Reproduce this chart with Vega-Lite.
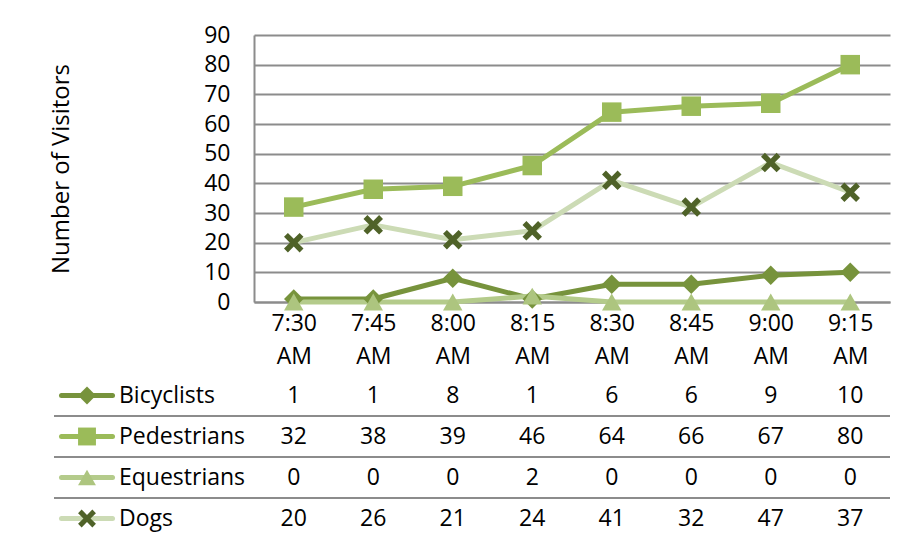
{
  "$schema": "https://vega.github.io/schema/vega-lite/v6.json",
  "background": "#ffffff",
  "padding": {"left": 49, "top": 24, "right": 5, "bottom": 5},
  "datasets": {
    "visits": [
      {"time": "7:30 AM", "series": "Bicyclists", "value": 1},
      {"time": "7:45 AM", "series": "Bicyclists", "value": 1},
      {"time": "8:00 AM", "series": "Bicyclists", "value": 8},
      {"time": "8:15 AM", "series": "Bicyclists", "value": 1},
      {"time": "8:30 AM", "series": "Bicyclists", "value": 6},
      {"time": "8:45 AM", "series": "Bicyclists", "value": 6},
      {"time": "9:00 AM", "series": "Bicyclists", "value": 9},
      {"time": "9:15 AM", "series": "Bicyclists", "value": 10},
      {"time": "7:30 AM", "series": "Pedestrians", "value": 32},
      {"time": "7:45 AM", "series": "Pedestrians", "value": 38},
      {"time": "8:00 AM", "series": "Pedestrians", "value": 39},
      {"time": "8:15 AM", "series": "Pedestrians", "value": 46},
      {"time": "8:30 AM", "series": "Pedestrians", "value": 64},
      {"time": "8:45 AM", "series": "Pedestrians", "value": 66},
      {"time": "9:00 AM", "series": "Pedestrians", "value": 67},
      {"time": "9:15 AM", "series": "Pedestrians", "value": 80},
      {"time": "7:30 AM", "series": "Equestrians", "value": 0},
      {"time": "7:45 AM", "series": "Equestrians", "value": 0},
      {"time": "8:00 AM", "series": "Equestrians", "value": 0},
      {"time": "8:15 AM", "series": "Equestrians", "value": 2},
      {"time": "8:30 AM", "series": "Equestrians", "value": 0},
      {"time": "8:45 AM", "series": "Equestrians", "value": 0},
      {"time": "9:00 AM", "series": "Equestrians", "value": 0},
      {"time": "9:15 AM", "series": "Equestrians", "value": 0},
      {"time": "7:30 AM", "series": "Dogs", "value": 20},
      {"time": "7:45 AM", "series": "Dogs", "value": 26},
      {"time": "8:00 AM", "series": "Dogs", "value": 21},
      {"time": "8:15 AM", "series": "Dogs", "value": 24},
      {"time": "8:30 AM", "series": "Dogs", "value": 41},
      {"time": "8:45 AM", "series": "Dogs", "value": 32},
      {"time": "9:00 AM", "series": "Dogs", "value": 47},
      {"time": "9:15 AM", "series": "Dogs", "value": 37}
    ]
  },
  "columns": 2,
  "spacing": {"row": 73, "column": 0},
  "bounds": "flush",
  "concat": [
    {
      "width": 200,
      "height": 267,
      "data": {"values": [{}]},
      "mark": {"type": "text"},
      "encoding": {"text": {"value": ""}}
    },
    {
      "width": 636,
      "height": 267,
      "data": {"name": "visits"},
      "encoding": {
        "x": {
          "field": "time",
          "type": "nominal",
          "scale": {"domain": ["7:30 AM", "7:45 AM", "8:00 AM", "8:15 AM", "8:30 AM", "8:45 AM", "9:00 AM", "9:15 AM"]},
          "axis": {
            "title": null,
            "labelAngle": 0,
            "labelExpr": "split(datum.label, ' ')",
            "labelFontSize": 23,
            "labelLineHeight": 33,
            "labelPadding": 10,
            "ticks": false,
            "domainColor": "#8c8c8c",
            "domainWidth": 2
          }
        },
        "y": {
          "field": "value",
          "type": "quantitative",
          "scale": {"domain": [0, 90], "nice": false},
          "axis": {
            "values": [0, 10, 20, 30, 40, 50, 60, 70, 80, 90],
            "title": "Number of Visitors",
            "titleFontSize": 24,
            "titleFontWeight": "normal",
            "titlePadding": 130,
            "labelFontSize": 23,
            "labelPadding": 24,
            "ticks": false,
            "grid": true,
            "gridColor": "#8c8c8c",
            "gridWidth": 2,
            "domainColor": "#8c8c8c",
            "domainWidth": 2
          }
        }
      },
      "layer": [
        {
          "mark": {"type": "line", "strokeWidth": 5, "strokeJoin": "round", "strokeCap": "round"},
          "encoding": {
            "stroke": {
              "field": "series",
              "type": "nominal",
              "scale": {"domain": ["Bicyclists", "Pedestrians", "Equestrians", "Dogs"], "range": ["#77933C", "#9BBB59", "#B4CB8B", "#CCDBB5"]},
              "legend": null
            }
          }
        },
        {
          "mark": {"type": "point", "filled": true, "size": 380, "opacity": 1, "strokeWidth": 0},
          "encoding": {
            "fill": {
              "field": "series",
              "type": "nominal",
              "scale": {"domain": ["Bicyclists", "Pedestrians", "Equestrians", "Dogs"], "range": ["#77933C", "#9BBB59", "#ADC57F", "#4F6228"]},
              "legend": null
            },
            "shape": {
              "field": "series",
              "type": "nominal",
              "scale": {"domain": ["Bicyclists", "Pedestrians", "Equestrians", "Dogs"], "range": ["diamond", "square", "triangle-up", "M-1,-0.6L-0.6,-1L0,-0.4L0.6,-1L1,-0.6L0.4,0L1,0.6L0.6,1L0,0.4L-0.6,1L-1,0.6L-0.4,0Z"]},
              "legend": null
            }
          }
        }
      ]
    },
    {
      "width": 200,
      "height": 164,
      "data": {"name": "visits"},
      "transform": [{"filter": "datum.time === '7:30 AM'"}],
      "encoding": {
        "y": {
          "field": "series",
          "type": "nominal",
          "scale": {"type": "band", "domain": ["Bicyclists", "Pedestrians", "Equestrians", "Dogs"], "paddingInner": 0, "paddingOuter": 0},
          "axis": null
        }
      },
      "layer": [
        {
          "transform": [{"filter": "datum.series !== 'Bicyclists'"}],
          "mark": {"type": "rule", "color": "#8c8c8c", "strokeWidth": 2},
          "encoding": {
            "y": {"field": "series", "type": "nominal", "bandPosition": 0}
          }
        },
        {
          "mark": {"type": "rule", "strokeWidth": 5, "strokeCap": "round"},
          "encoding": {
            "x": {"datum": 7.5, "type": "quantitative", "scale": {"domain": [0, 200]}, "axis": null},
            "x2": {"datum": 58.5},
            "stroke": {
              "field": "series",
              "type": "nominal",
              "scale": {"domain": ["Bicyclists", "Pedestrians", "Equestrians", "Dogs"], "range": ["#77933C", "#9BBB59", "#B4CB8B", "#CCDBB5"]},
              "legend": null
            }
          }
        },
        {
          "mark": {"type": "point", "filled": true, "size": 320, "opacity": 1, "strokeWidth": 0},
          "encoding": {
            "x": {"datum": 33, "type": "quantitative"},
            "fill": {
              "field": "series",
              "type": "nominal",
              "scale": {"domain": ["Bicyclists", "Pedestrians", "Equestrians", "Dogs"], "range": ["#77933C", "#9BBB59", "#ADC57F", "#4F6228"]},
              "legend": null
            },
            "shape": {
              "field": "series",
              "type": "nominal",
              "scale": {"domain": ["Bicyclists", "Pedestrians", "Equestrians", "Dogs"], "range": ["diamond", "square", "triangle-up", "M-1,-0.6L-0.6,-1L0,-0.4L0.6,-1L1,-0.6L0.4,0L1,0.6L0.6,1L0,0.4L-0.6,1L-1,0.6L-0.4,0Z"]},
              "legend": null
            }
          }
        },
        {
          "mark": {"type": "text", "align": "left", "baseline": "middle", "fontSize": 23, "color": "#000000"},
          "encoding": {
            "x": {"datum": 65, "type": "quantitative"},
            "text": {"field": "series", "type": "nominal"}
          }
        }
      ]
    },
    {
      "width": 636,
      "height": 164,
      "data": {"name": "visits"},
      "encoding": {
        "y": {
          "field": "series",
          "type": "nominal",
          "scale": {"type": "band", "domain": ["Bicyclists", "Pedestrians", "Equestrians", "Dogs"], "paddingInner": 0, "paddingOuter": 0},
          "axis": null
        }
      },
      "layer": [
        {
          "transform": [{"filter": "datum.series !== 'Bicyclists' && datum.time === '7:30 AM'"}],
          "mark": {"type": "rule", "color": "#8c8c8c", "strokeWidth": 2},
          "encoding": {
            "y": {"field": "series", "type": "nominal", "bandPosition": 0}
          }
        },
        {
          "mark": {"type": "text", "align": "center", "baseline": "middle", "fontSize": 23, "color": "#000000"},
          "encoding": {
            "x": {
              "field": "time",
              "type": "nominal",
              "scale": {"domain": ["7:30 AM", "7:45 AM", "8:00 AM", "8:15 AM", "8:30 AM", "8:45 AM", "9:00 AM", "9:15 AM"]},
              "axis": null
            },
            "text": {"field": "value", "type": "quantitative", "format": "d"}
          }
        }
      ]
    }
  ],
  "config": {
    "view": {"stroke": null},
    "font": "Open Sans",
    "text": {"font": "Open Sans"},
    "axis": {"labelFont": "Open Sans", "titleFont": "Open Sans", "labelColor": "#000000", "titleColor": "#000000"}
  }
}
